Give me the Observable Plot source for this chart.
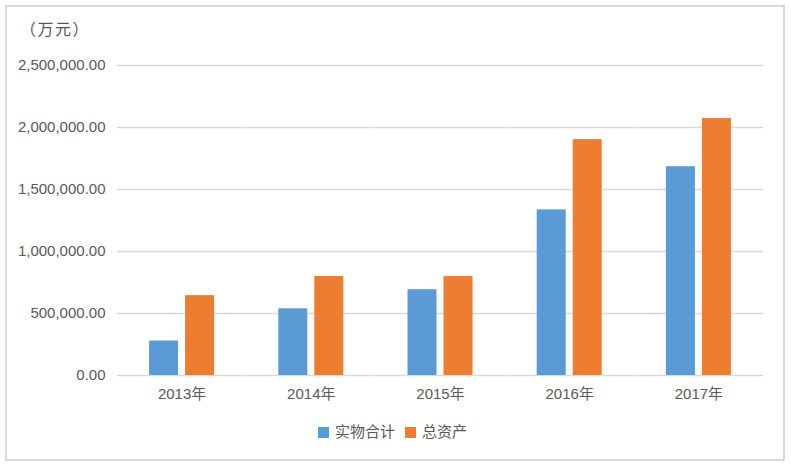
<!DOCTYPE html>
<html>
<head>
<meta charset="utf-8">
<script src="https://cdn.jsdelivr.net/npm/d3@7"></script>
<script src="https://cdn.jsdelivr.net/npm/@observablehq/plot@0.6"></script>
<style>
  html, body { margin: 0; padding: 0; background: #fff; }
  body { width: 791px; height: 467px; position: relative; overflow: hidden;
         font-family: "Liberation Sans", "Noto Sans CJK SC", sans-serif; color: #595959; }
  #frame { position: absolute; left: 5px; top: 5px; width: 776px; height: 452px;
           border: 2px solid #d9d9d9; }
  #unit { position: absolute; left: 20px; top: 19px; font-size: 16px; line-height: 22px; letter-spacing: 1.5px; }
  #chart { position: absolute; left: 0; top: 0; }
  #legend { position: absolute; left: 318px; top: 422px; font-size: 15px; line-height: 20px;
            display: flex; align-items: center; white-space: nowrap; }
  .sw { display: inline-block; width: 11px; height: 11px; margin-right: 6px; }
  .item { display: flex; align-items: center; margin-right: 10px; }
</style>
</head>
<body>
<div id="frame"></div>
<div id="unit">（万元）</div>
<div id="chart"></div>
<div id="legend"></div>
<script>
const years = ["2013年", "2014年", "2015年", "2016年", "2017年"];
const seriesNames = ["实物合计", "总资产"];
const physicalTotal = [278000, 538000, 692000, 1336000, 1684000];
const totalAssets = [644000, 798000, 798000, 1902000, 2072000];
const seriesColors = ["#5b9bd5", "#ed7d31"];
const yTicks = [0, 500000, 1000000, 1500000, 2000000, 2500000];

const data = [];
years.forEach((y, i) => {
  data.push({year: y, series: seriesNames[0], value: physicalTotal[i]});
  data.push({year: y, series: seriesNames[1], value: totalAssets[i]});
});

const chart = Plot.plot({
  width: 791,
  height: 420,
  marginLeft: 117,
  marginRight: 28,
  marginTop: 65,
  marginBottom: 45,
  style: {fontFamily: '"Liberation Sans", "Noto Sans CJK SC", sans-serif', fontSize: "15px", color: "#595959", background: "transparent"},
  fx: {domain: years, padding: 0, round: false, label: null, axis: "bottom", tickSize: 0, tickPadding: 13},
  x: {domain: seriesNames, paddingInner: 0.194, paddingOuter: 0.891, align: 0.5, round: false, axis: null},
  y: {domain: [0, 2500000], ticks: yTicks, tickFormat: d3.format(",.2f"), label: null, tickSize: 0, tickPadding: 12},
  color: {domain: seriesNames, range: seriesColors},
  marks: [
    Plot.ruleY(yTicks, {stroke: "#d9d9d9", strokeWidth: 1.5}),
    Plot.barY(data, {fx: "year", x: "series", y: "value", fill: "series"})
  ]
});
document.getElementById("chart").appendChild(chart);

const legend = document.getElementById("legend");
seriesNames.forEach((name, i) => {
  const item = document.createElement("span");
  item.className = "item";
  const sw = document.createElement("span");
  sw.className = "sw";
  sw.style.background = seriesColors[i];
  item.appendChild(sw);
  item.appendChild(document.createTextNode(name));
  legend.appendChild(item);
});
</script>
</body>
</html>
